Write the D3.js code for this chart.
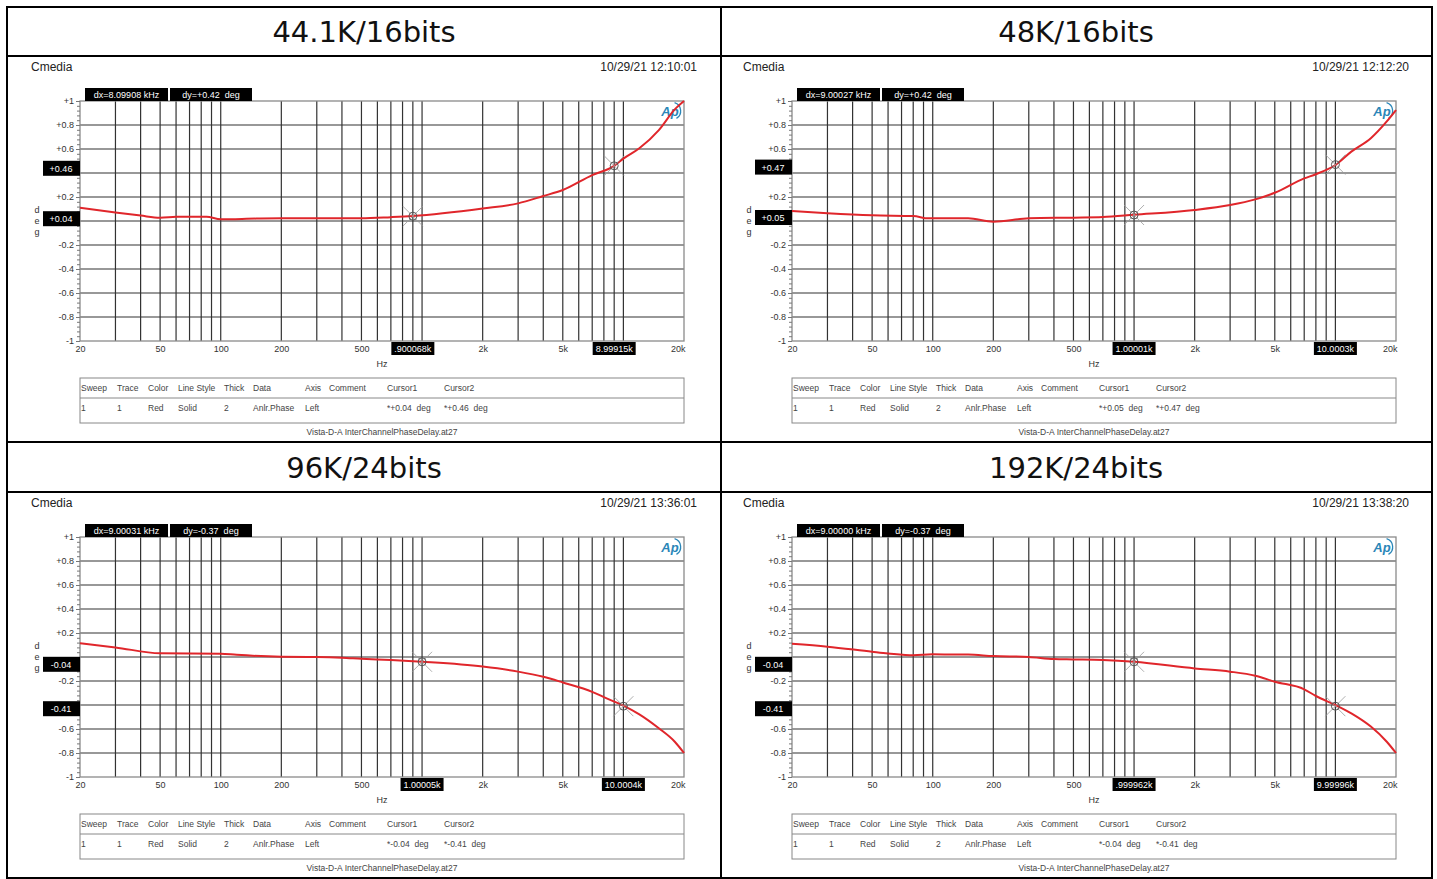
<!DOCTYPE html>
<html>
<head>
<meta charset="utf-8">
<script src="https://cdn.jsdelivr.net/npm/d3@7"></script>
<style>
  body { margin: 0; background: #fff; }
  svg text { font-family: "Liberation Sans", Arial, sans-serif; }
</style>
</head>
<body>
<div id="vis-svg"></div>
<script>
var width = 1437;
var height = 879;

// panel captions and header texts
var titles = ["44.1K/16bits", "48K/16bits", "96K/24bits", "192K/24bits"];
var dates = ["10/29/21 12:10:01", "10/29/21 12:12:20", "10/29/21 13:36:01", "10/29/21 13:38:20"];

// traces (Hz, deg)
var freq44 = [20, 30, 40, 50, 60, 70, 85, 100, 150, 200, 500, 700, 900, 2000, 3000, 4000, 5000, 7000, 9000, 10000, 12000, 15000, 18000, 20000];
var phase44 = [0.11, 0.07, 0.045, 0.028, 0.035, 0.036, 0.036, 0.015, 0.02, 0.022, 0.022, 0.032, 0.042, 0.105, 0.147, 0.208, 0.258, 0.383, 0.46, 0.52, 0.606, 0.758, 0.93, 1.0];

var freq48 = [20, 30, 50, 80, 95, 150, 200, 300, 500, 700, 1000, 2000, 3000, 4000, 5000, 7000, 8000, 10000, 12000, 15000, 18000, 20000];
var phase48 = [0.083, 0.064, 0.047, 0.042, 0.022, 0.022, -0.006, 0.022, 0.028, 0.033, 0.052, 0.092, 0.133, 0.18, 0.235, 0.355, 0.39, 0.467, 0.578, 0.69, 0.83, 0.925];

var freq96 = [20, 30, 50, 100, 120, 200, 300, 400, 500, 700, 1000, 2000, 3000, 4000, 5000, 7000, 8000, 10000, 12000, 15000, 18000, 20000];
var phase96 = [0.114, 0.08, 0.031, 0.028, 0.018, 0.002, 0, -0.006, -0.015, -0.025, -0.04, -0.08, -0.122, -0.165, -0.212, -0.29, -0.335, -0.405, -0.478, -0.594, -0.706, -0.8];

var freq192 = [20, 30, 50, 60, 80, 100, 150, 200, 300, 400, 500, 700, 1000, 2000, 3000, 4000, 5000, 7000, 8000, 10000, 12000, 15000, 18000, 20000];
var phase192 = [0.11, 0.086, 0.044, 0.03, 0.014, 0.022, 0.02, 0.008, 0, -0.017, -0.02, -0.025, -0.04, -0.095, -0.122, -0.156, -0.206, -0.269, -0.325, -0.4, -0.47, -0.58, -0.706, -0.8];

// cursors
var cursorFreqs = [[900.068, 8999.15], [1000.01, 10000.3], [1000.05, 10000.4], [999.962, 9999.96]];
var cursorValues = [[0.04, 0.46], [0.05, 0.47], [-0.04, -0.41], [-0.04, -0.41]];
var cursorLabels = [[".900068k", "8.99915k"], ["1.00001k", "10.0003k"], ["1.00005k", "10.0004k"], [".999962k", "9.99996k"]];
var dxLabels = ["dx=8.09908 kHz", "dx=9.00027 kHz", "dx=9.00031 kHz", "dx=9.00000 kHz"];
var dyLabels = ["dy=+0.42  deg", "dy=+0.42  deg", "dy=-0.37  deg", "dy=-0.37  deg"];

// axis ticks
var xTickValues = [20, 50, 100, 200, 500, 1000, 2000, 5000, 10000, 20000];
var xTickLabels = ["20", "50", "100", "200", "500", "1k", "2k", "5k", "10k", "20k"];
var yTickValues = [1, 0.8, 0.6, 0.4, 0.2, 0, -0.2, -0.4, -0.6, -0.8, -1];

// legend table
var tableHeads = ["Sweep", "Trace", "Color", "Line Style", "Thick", "Data", "Axis", "Comment", "Cursor1", "Cursor2"];
var tableRow = ["1", "1", "Red", "Solid", "2", "Anlr.Phase", "Left", ""];
var fileName = "Vista-D-A InterChannelPhaseDelay.at27";

var traces = [
  {f: freq44, v: phase44},
  {f: freq48, v: phase48},
  {f: freq96, v: phase96},
  {f: freq192, v: phase192}
];

var offsets = [[0, 0], [712, 0], [0, 436], [712, 436]];

var svg = d3.select("#vis-svg")
  .append("svg")
  .attr("width", width)
  .attr("height", height);

// outer frame of the comparison table
var frame = svg.append("g").attr("stroke", "#000").attr("stroke-width", 2);
frame.append("rect").attr("x", 7).attr("y", 7).attr("width", 1425).attr("height", 871).attr("fill", "none");
frame.append("line").attr("x1", 721).attr("x2", 721).attr("y1", 7).attr("y2", 878);
[56, 442, 492].forEach(function (y) {
  frame.append("line").attr("x1", 7).attr("x2", 1432).attr("y1", y).attr("y2", y);
});

var titleX = [364, 1076, 364, 1076];
var titleY = [32, 32, 468, 468];
titles.forEach(function (t, i) {
  svg.append("text")
    .attr("x", titleX[i])
    .attr("y", titleY[i])
    .attr("text-anchor", "middle")
    .attr("dominant-baseline", "central")
    .style("font-family", "'DejaVu Sans', Verdana, sans-serif")
    .style("font-size", "29px")
    .attr("fill", "#111")
    .text(t);
});

function fmtY(v) {
  if (v > 0) return "+" + v;
  if (v === 0) return "+0";
  return String(v);
}

function drawPanel(i) {
  var g = svg.append("g").attr("transform", "translate(" + offsets[i][0] + "," + offsets[i][1] + ")");
  var x = d3.scaleLog().domain([20, 20000]).range([80, 684]);
  var y = d3.scaleLinear().domain([-1, 1]).range([341, 101]);

  g.append("text").attr("x", 31).attr("y", 71).style("font-size", "12px").attr("fill", "#222").text("Cmedia");
  g.append("text").attr("x", 697).attr("y", 71).attr("text-anchor", "end").style("font-size", "12px").attr("fill", "#222").text(dates[i]);

  // grid
  var grid = g.append("g").attr("stroke", "#333").attr("stroke-width", 1.2);
  var vLines = [];
  [10, 100, 1000, 10000].forEach(function (d) {
    for (var k = 1; k <= 9; k++) {
      var f = d * k;
      if (f > 20 && f < 20000) vLines.push(f);
    }
  });
  grid.selectAll(".v").data(vLines).enter().append("line")
    .attr("x1", function (d) { return x(d); }).attr("x2", function (d) { return x(d); })
    .attr("y1", y(1)).attr("y2", y(-1));
  grid.selectAll(".h").data(yTickValues.slice(1, -1)).enter().append("line")
    .attr("x1", x(20)).attr("x2", x(20000))
    .attr("y1", function (d) { return y(d); }).attr("y2", function (d) { return y(d); });
  g.append("rect").attr("x", x(20)).attr("y", y(1)).attr("width", x(20000) - x(20)).attr("height", y(-1) - y(1))
    .attr("fill", "none").attr("stroke", "#8a8a8a").attr("stroke-width", 1.3);

  // y axis with minor ticks; labels hidden behind the cursor boxes are left out
  var yAxis = d3.axisLeft(y).tickValues(d3.range(-1, 1.0001, 0.04)).tickSize(3).tickFormat("");
  var ya = g.append("g").attr("transform", "translate(" + x(20) + ",0)").call(yAxis);
  ya.select(".domain").remove();
  ya.selectAll("line").attr("stroke", "#777");
  var yShown = yTickValues.filter(function (v) {
    return cursorValues[i].every(function (c) { return Math.abs(y(v) - (y(c) + 2.5)) > 11; });
  });
  var yLab = d3.axisLeft(y).tickValues(yShown).tickSize(4).tickFormat(fmtY);
  var yl = g.append("g").attr("transform", "translate(" + x(20) + ",0)").call(yLab);
  yl.select(".domain").remove();
  yl.selectAll("line").attr("stroke", "#777");
  yl.selectAll("text").style("font-size", "9px").attr("fill", "#333").attr("dx", "0.1em");

  ["d", "e", "g"].forEach(function (c, k) {
    g.append("text").attr("x", 37).attr("y", 213 + k * 11).attr("text-anchor", "middle").style("font-size", "9px").attr("fill", "#333").text(c);
  });

  // x axis labels
  var xShown = xTickValues.filter(function (v) {
    return cursorFreqs[i].every(function (c) { return Math.abs(x(v) - x(c)) > 28; });
  });
  var xAxis = d3.axisBottom(x).tickValues(xShown).tickSize(0).tickPadding(5)
    .tickFormat(function (d) { return xTickLabels[xTickValues.indexOf(d)]; });
  var xa = g.append("g").attr("transform", "translate(0," + y(-1) + ")").call(xAxis);
  xa.select(".domain").remove();
  xa.selectAll("text").style("font-size", "9px").attr("fill", "#333");
  xa.selectAll("text").filter(function (d) { return d === 20000; }).attr("text-anchor", "end").attr("dx", "0.1em");
  g.append("text").attr("x", (x(20) + x(20000)) / 2).attr("y", 367).attr("text-anchor", "middle").style("font-size", "9px").attr("fill", "#333").text("Hz");

  // Ap logo
  var logo = g.append("g").attr("transform", "translate(670,111)");
  logo.append("text").attr("x", 0).attr("y", 4.5).attr("text-anchor", "middle")
    .style("font-size", "13px").style("font-style", "italic").style("font-weight", "bold").attr("fill", "#2a86b8").text("Ap");
  logo.append("path").attr("d", d3.arc()({innerRadius: 8, outerRadius: 9.3, startAngle: 0.3, endAngle: 2.6}))
    .attr("transform", "translate(2,0)").attr("fill", "#2a86b8");

  // trace
  var tr = traces[i];
  var pts = tr.f.map(function (f, k) { return [f, tr.v[k]]; });
  var line = d3.line().x(function (d) { return x(d[0]); }).y(function (d) { return y(d[1]); }).curve(d3.curveMonotoneX);
  g.append("path").datum(pts).attr("d", line).attr("fill", "none").attr("stroke", "#e0262b").attr("stroke-width", 2);

  // cursors
  cursorFreqs[i].forEach(function (f, k) {
    var cx = x(f), cy = y(cursorValues[i][k]);
    var m = g.append("g").attr("fill", "none");
    m.append("line").attr("x1", cx - 10).attr("x2", cx + 10).attr("y1", cy - 10).attr("y2", cy + 10).attr("stroke-width", 0.8).attr("stroke", "#999");
    m.append("line").attr("x1", cx - 10).attr("x2", cx + 10).attr("y1", cy + 10).attr("y2", cy - 10).attr("stroke-width", 0.8).attr("stroke", "#999");
    m.append("circle").attr("cx", cx).attr("cy", cy).attr("r", 4).attr("stroke", "#555").attr("stroke-width", 1);

    // value box on y axis
    g.append("rect").attr("x", 43).attr("y", cy - 5).attr("width", 37).attr("height", 15).attr("fill", "#000");
    g.append("text").attr("x", 61).attr("y", cy + 3).attr("text-anchor", "middle").attr("dominant-baseline", "central")
      .style("font-size", "9px").attr("fill", "#fff").text(fmtY(cursorValues[i][k]));

    // frequency box on x axis
    g.append("rect").attr("x", cx - 21.5).attr("y", 342).attr("width", 43).attr("height", 13).attr("fill", "#000");
    g.append("text").attr("x", cx).attr("y", 348.5).attr("text-anchor", "middle").attr("dominant-baseline", "central")
      .style("font-size", "9px").attr("fill", "#fff").text(cursorLabels[i][k]);
  });

  // dx / dy boxes
  [[85, 83, dxLabels[i]], [170, 82, dyLabels[i]]].forEach(function (b) {
    g.append("rect").attr("x", b[0]).attr("y", 88).attr("width", b[1]).attr("height", 13).attr("fill", "#000");
    g.append("text").attr("x", b[0] + b[1] / 2).attr("y", 95).attr("text-anchor", "middle").attr("dominant-baseline", "central")
      .style("font-size", "9px").style("white-space", "pre").attr("fill", "#fff").text(b[2]);
  });

  // legend table
  g.append("rect").attr("x", 80).attr("y", 378).attr("width", 604).attr("height", 45).attr("fill", "none").attr("stroke", "#888").attr("stroke-width", 1);
  g.append("line").attr("x1", 80).attr("x2", 684).attr("y1", 398).attr("y2", 398).attr("stroke", "#888");
  var colX = [81, 117, 148, 178, 224, 253, 305, 329, 387, 444];
  var vals = tableRow.concat(["*" + fmtY(cursorValues[i][0]) + "  deg", "*" + fmtY(cursorValues[i][1]) + "  deg"]);
  tableHeads.forEach(function (h, k) {
    g.append("text").attr("x", colX[k]).attr("y", 391).style("font-size", "8.5px").attr("fill", "#444").text(h);
    g.append("text").attr("x", colX[k]).attr("y", 411).style("font-size", "8.5px").style("white-space", "pre").attr("fill", "#444").text(vals[k]);
  });
  g.append("text").attr("x", (80 + 684) / 2).attr("y", 435).attr("text-anchor", "middle").style("font-size", "8.5px").attr("fill", "#444").text(fileName);
}

for (var i = 0; i < 4; i++) drawPanel(i);
</script>
</body>
</html>
